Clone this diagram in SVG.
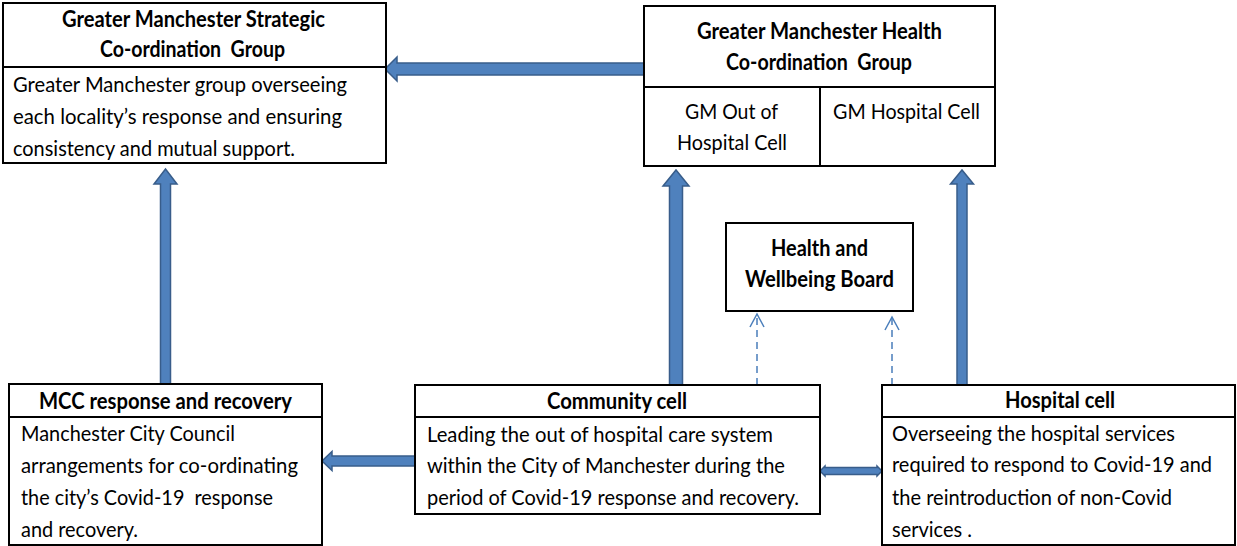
<svg xmlns="http://www.w3.org/2000/svg" width="1237" height="546" viewBox="0 0 1237 546">
<style>
.box{fill:#fff;stroke:#000;stroke-width:2}
.ln{stroke:#000;stroke-width:2;fill:none}
text{font-family:Lato,"Open Sans","Liberation Sans",sans-serif;font-size:22px;fill:#000}
.b{font-weight:bold}
.arr{fill:#4f81bd;stroke:#385d8a;stroke-width:1.5;stroke-linejoin:miter}
.dash{stroke:#4a7ebb;stroke-width:1.5;stroke-dasharray:7 5;fill:none}
.vh{stroke:#4a7ebb;stroke-width:1.5;fill:none}
</style>
<rect width="1237" height="546" fill="#fff"/>

<g id="connectors">
<polygon class="arr" points="644,63 397,63 397,57 385,69 397,81 397,75 644,75"/>
<polygon class="arr" points="160.5,384 160.5,184 154,184 165.5,169 177,184 170.5,184 170.5,384"/>
<polygon class="arr" points="669.5,385 669.5,186 663,186 676,170 689,186 682.5,186 682.5,385"/>
<polygon class="arr" points="957,385 957,184 950.5,184 962,170 973.5,184 967,184 967,385"/>
<polygon class="arr" points="415,456 332,456 332,451.5 322,461 332,470.5 332,466 415,466"/>
<polygon class="arr" points="820,471 825,466 825,467.5 877,467.5 877,466 882,471 877,476 877,474.5 825,474.5 825,476"/>
<line class="dash" x1="757" y1="385" x2="757" y2="315"/>
<polyline class="vh" points="750,327 757,314 764,327"/>
<line class="dash" x1="892" y1="385" x2="892" y2="318"/>
<polyline class="vh" points="885,330 892,317 899,330"/>
</g>

<g id="strategic">
<rect class="box" x="3" y="3" width="383" height="160"/>
<line class="ln" x1="3" y1="67" x2="386" y2="67"/>
<text class="b" x="62" y="27" textLength="263" lengthAdjust="spacingAndGlyphs">Greater Manchester Strategic</text>
<text class="b" x="100" y="57" textLength="185" lengthAdjust="spacingAndGlyphs" xml:space="preserve">Co-ordination  Group</text>
<text x="13" y="92" textLength="334" lengthAdjust="spacingAndGlyphs">Greater Manchester group overseeing</text>
<text x="13" y="124" textLength="329" lengthAdjust="spacingAndGlyphs">each locality’s response and ensuring</text>
<text x="13" y="156" textLength="282" lengthAdjust="spacingAndGlyphs">consistency and mutual support.</text>
</g>

<g id="health-coord">
<rect class="box" x="644" y="6" width="351" height="160"/>
<line class="ln" x1="644" y1="87" x2="995" y2="87"/>
<line class="ln" x1="820" y1="87" x2="820" y2="166"/>
<text class="b" x="697" y="39" textLength="245" lengthAdjust="spacingAndGlyphs">Greater Manchester Health</text>
<text class="b" x="726" y="70" textLength="186" lengthAdjust="spacingAndGlyphs" xml:space="preserve">Co-ordination  Group</text>
<text x="685" y="119" textLength="93" lengthAdjust="spacingAndGlyphs">GM Out of</text>
<text x="677" y="150" textLength="110" lengthAdjust="spacingAndGlyphs">Hospital Cell</text>
<text x="833" y="119" textLength="147" lengthAdjust="spacingAndGlyphs">GM Hospital Cell</text>
</g>

<g id="hwb">
<rect class="box" x="726" y="223" width="187" height="88"/>
<text class="b" x="771" y="256" textLength="97" lengthAdjust="spacingAndGlyphs">Health and</text>
<text class="b" x="745" y="287" textLength="149" lengthAdjust="spacingAndGlyphs">Wellbeing Board</text>
</g>

<g id="mcc">
<rect class="box" x="9" y="384" width="313" height="161"/>
<line class="ln" x1="9" y1="417" x2="322" y2="417"/>
<text class="b" x="39" y="409" textLength="253" lengthAdjust="spacingAndGlyphs">MCC response and recovery</text>
<text x="21" y="441" textLength="214" lengthAdjust="spacingAndGlyphs">Manchester City Council</text>
<text x="21" y="473" textLength="277" lengthAdjust="spacingAndGlyphs">arrangements for co-ordinating</text>
<text x="21" y="505" textLength="252" lengthAdjust="spacingAndGlyphs" xml:space="preserve">the city’s Covid-19  response</text>
<text x="21" y="537" textLength="117" lengthAdjust="spacingAndGlyphs">and recovery.</text>
</g>

<g id="community">
<rect class="box" x="415" y="385" width="405" height="129"/>
<line class="ln" x1="415" y1="417" x2="820" y2="417"/>
<text class="b" x="547" y="409" textLength="140" lengthAdjust="spacingAndGlyphs">Community cell</text>
<text x="427" y="442" textLength="346" lengthAdjust="spacingAndGlyphs">Leading the out of hospital care system</text>
<text x="427" y="473" textLength="358" lengthAdjust="spacingAndGlyphs">within the City of Manchester during the</text>
<text x="427" y="505" textLength="372" lengthAdjust="spacingAndGlyphs">period of Covid-19 response and recovery.</text>
</g>

<g id="hospital">
<rect class="box" x="882" y="385" width="353" height="160"/>
<line class="ln" x1="882" y1="417" x2="1235" y2="417"/>
<text class="b" x="1005" y="408" textLength="110" lengthAdjust="spacingAndGlyphs">Hospital cell</text>
<text x="892" y="441" textLength="283" lengthAdjust="spacingAndGlyphs">Overseeing the hospital services</text>
<text x="892" y="472" textLength="320" lengthAdjust="spacingAndGlyphs">required to respond to Covid-19 and</text>
<text x="892" y="505" textLength="280" lengthAdjust="spacingAndGlyphs">the reintroduction of non-Covid</text>
<text x="892" y="537" textLength="80" lengthAdjust="spacingAndGlyphs">services .</text>
</g>
</svg>
